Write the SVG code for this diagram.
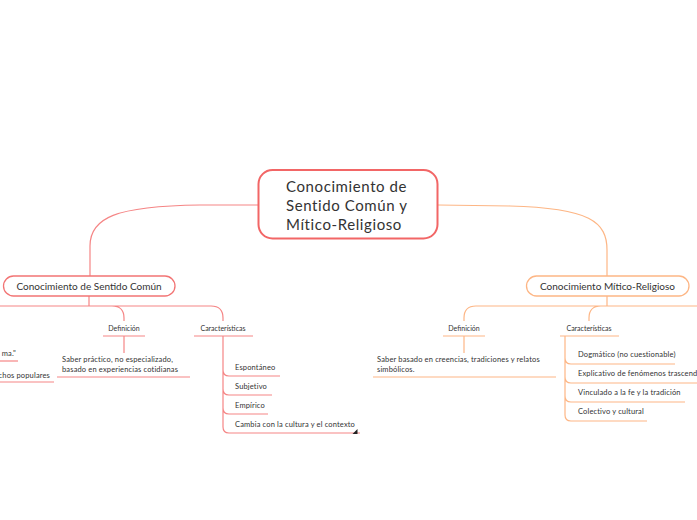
<svg xmlns="http://www.w3.org/2000/svg" width="697" height="520" viewBox="0 0 697 520">
<style>
.t{font-family:Lato,"Noto Sans","DejaVu Sans",sans-serif;fill:#333}
.s{font-size:7.5px;letter-spacing:0.15px}
.c{font-size:15px;letter-spacing:0.6px}
.r{stroke:#f58585;stroke-width:1.2;fill:none}
.o{stroke:#fdb685;stroke-width:1.2;fill:none}
</style>
<rect width="697" height="520" fill="#ffffff"/>
<g id="connectors">
  <path class="r" d="M258,205 L200,205 C115,206 90,218 90,246 L90,276" stroke-width="1.6"/>
  <path class="o" d="M438,205 L510,206 C590,208 607,222 607,250 L607,276" stroke-width="1.6"/>
  <path class="r" d="M89,296 L89,306 M0,306 L112,306 Q124,306 124,318 L124,321 M89,306 L211,306 Q223,306 223,318 L223,321"/>
  <path class="r" d="M124,336 L124,353"/>
  <path class="r" d="M223,336 L223,370 Q223,376 229,376 M223,370 L223,389 Q223,395 229,395 M223,389 L223,408 Q223,414 229,414 M223,408 L223,427 Q223,433 229,433"/>
  <path class="o" d="M607,296 L607,306 L697,306 M607,306 L476,306 Q464,306 464,318 L464,321 M607,306 L601,306 Q589,306 589,318 L589,321"/>
  <path class="o" d="M464,336 L464,353"/>
  <path class="o" d="M565,336 L565,358 Q565,364 571,364 M565,358 L565,377 Q565,383 571,383 M565,377 L565,396 Q565,402 571,402 M565,396 L565,415 Q565,421 571,421"/>
</g>
<g id="central">
  <rect x="258.5" y="170" width="179" height="68.5" rx="14" fill="#fff" stroke="#f26666" stroke-width="2"/>
  <text class="t c" x="286" y="192">Conocimiento de</text>
  <text class="t c" x="286" y="211">Sentido Común y</text>
  <text class="t c" x="286" y="230">Mítico-Religioso</text>
</g>
<g id="sentido-comun">
  <rect x="3.5" y="276" width="171.5" height="20" rx="10" fill="#fff" stroke="#f27474" stroke-width="1.3"/>
  <text class="t" x="89" y="289.5" font-size="10" text-anchor="middle">Conocimiento de Sentido Común</text>
</g>
<g id="left-offscreen">
  <text class="t s" x="16" y="356" text-anchor="end">ma."</text>
  <path class="r" d="M0,361 L18,361"/>
  <text class="t s" x="50" y="378" text-anchor="end">chos populares</text>
  <path class="r" d="M0,382 L54,382"/>
</g>
<g id="sc-definicion">
  <text class="t" x="124" y="331" font-size="7" text-anchor="middle">Definición</text>
  <path class="r" d="M103,336 L145,336"/>
</g>
<g id="sc-definicion-texto">
  <text class="t s" x="62" y="362">Saber práctico, no especializado,</text>
  <text class="t s" x="62" y="372">basado en experiencias cotidianas</text>
  <path class="r" d="M57,377 L190,377"/>
</g>
<g id="sc-caracteristicas">
  <text class="t" x="223" y="331" font-size="7" text-anchor="middle">Características</text>
  <path class="r" d="M194,336 L253,336"/>
</g>
<g id="sc-espontaneo">
  <text class="t s" x="235" y="370">Espontáneo</text>
  <path class="r" d="M229,376 L280,376"/>
</g>
<g id="sc-subjetivo">
  <text class="t s" x="235" y="389">Subjetivo</text>
  <path class="r" d="M229,395 L272,395"/>
</g>
<g id="sc-empirico">
  <text class="t s" x="235" y="408">Empírico</text>
  <path class="r" d="M229,414 L268,414"/>
</g>
<g id="sc-cambia">
  <text class="t s" x="235" y="427">Cambia con la cultura y el contexto</text>
  <path class="r" d="M229,433 L360,433"/>
  <polygon points="357.5,429 357.5,434 352.5,434" fill="#222"/>
</g>
<g id="mitico-religioso">
  <rect x="526.5" y="276" width="162.5" height="20" rx="10" fill="#fff" stroke="#fdb685" stroke-width="1.3"/>
  <text class="t" x="607.5" y="289.5" font-size="10" text-anchor="middle">Conocimiento Mítico-Religioso</text>
</g>
<g id="mr-definicion">
  <text class="t" x="464" y="331" font-size="7" text-anchor="middle">Definición</text>
  <path class="o" d="M443,336 L485,336"/>
</g>
<g id="mr-definicion-texto">
  <text class="t s" x="377" y="362">Saber basado en creencias, tradiciones y relatos</text>
  <text class="t s" x="377" y="372">simbólicos.</text>
  <path class="o" d="M373,377 L556,377"/>
</g>
<g id="mr-caracteristicas">
  <text class="t" x="589" y="331" font-size="7" text-anchor="middle">Características</text>
  <path class="o" d="M560,336 L619,336"/>
</g>
<g id="mr-dogmatico">
  <text class="t s" x="578" y="357">Dogmático (no cuestionable)</text>
  <path class="o" d="M571,364 L675,364"/>
</g>
<g id="mr-explicativo">
  <text class="t s" x="578" y="376">Explicativo de fenómenos trascend</text>
  <path class="o" d="M571,383 L697,383"/>
</g>
<g id="mr-vinculado">
  <text class="t s" x="578" y="395">Vinculado a la fe y la tradición</text>
  <path class="o" d="M571,402 L685,402"/>
</g>
<g id="mr-colectivo">
  <text class="t s" x="578" y="414">Colectivo y cultural</text>
  <path class="o" d="M571,421 L647,421"/>
</g>
</svg>
